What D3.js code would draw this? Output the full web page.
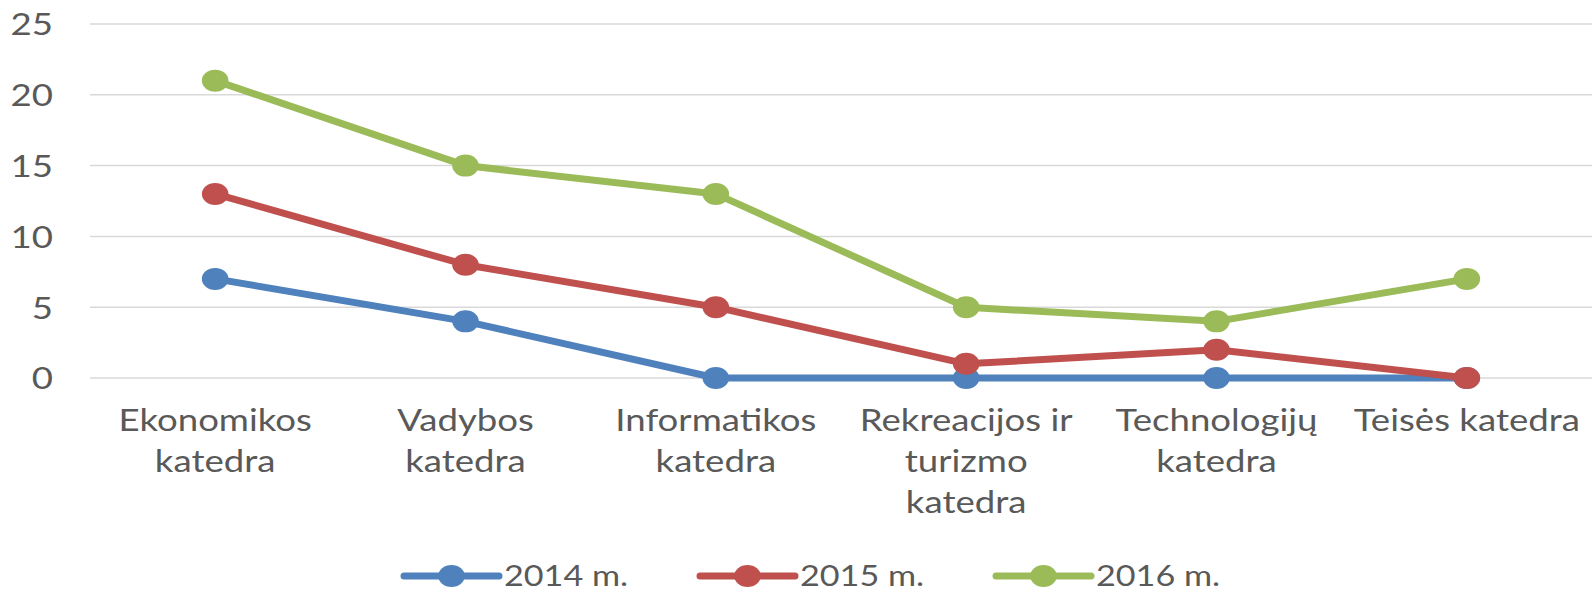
<!DOCTYPE html>
<html>
<head>
<meta charset="utf-8">
<script src="https://cdn.jsdelivr.net/npm/d3@7"></script>
<style>
  html, body { margin: 0; padding: 0; background: #fff; }
  svg { display: block; }
  text { font-family: Lato, "Open Sans", sans-serif; fill: #595959; }
</style>
</head>
<body>
<svg id="chart" width="1596" height="592"></svg>
<script>
// Departments (line breaks mark where each axis label wraps)
const categories = [
  "Ekonomikos\nkatedra",
  "Vadybos\nkatedra",
  "Informatikos\nkatedra",
  "Rekreacijos ir\nturizmo\nkatedra",
  "Technologijų\nkatedra",
  "Teisės katedra"
];
const seriesNames = ["2014 m.", "2015 m.", "2016 m."];
const values2014 = [7, 4, 0, 0, 0, 0];
const values2015 = [13, 8, 5, 1, 2, 0];
const values2016 = [21, 15, 13, 5, 4, 7];
const yTicks = [0, 5, 10, 15, 20, 25];
const colors = ["#4f81bd", "#c0504d", "#9bbb59"];

const series = [values2014, values2015, values2016].map((v, i) => ({
  name: seriesNames[i], values: v, color: colors[i]
}));

const svg = d3.select("#chart");
const plot = { left: 90, right: 1592, top: 24, bottom: 378 };
const fontSize = 30;
const stretch = 1.22;   // horizontal stretch applied to the text

const x = d3.scaleBand().domain(d3.range(categories.length))
  .range([plot.left, plot.right]).paddingInner(0).paddingOuter(0);
const y = d3.scaleLinear().domain([0, 25]).range([plot.bottom, plot.top]);

// Gridlines
svg.append("g").selectAll("line").data(yTicks).join("line")
  .attr("x1", plot.left).attr("x2", plot.right)
  .attr("y1", d => y(d)).attr("y2", d => y(d))
  .attr("stroke", "#d9d9d9").attr("stroke-width", 1.5);

// Y axis labels (right aligned, centred on each gridline)
const yAxis = svg.append("g").attr("transform", "translate(53,0)")
  .call(d3.axisLeft(y).tickValues(yTicks).tickSize(0).tickPadding(0));
yAxis.select(".domain").remove();
yAxis.selectAll("text")
  .attr("font-size", fontSize).attr("font-family", null).attr("fill", "#595959")
  .attr("dy", "0.36em")
  .attr("transform", `scale(${stretch},1)`);

// X axis labels (wrapped, centred under each category)
const xLabels = svg.append("g");
const lineGap = 41;
categories.forEach((c, i) => {
  const cx = x(i) + x.bandwidth() / 2;
  const lines = c.split("\n");
  const g = xLabels.append("g")
    .attr("transform", `translate(${cx},431) scale(${stretch},1)`);
  lines.forEach((ln, j) => {
    g.append("text")
      .attr("x", 0).attr("y", j * lineGap)
      .attr("text-anchor", "middle")
      .attr("font-size", fontSize)
      .text(ln);
  });
});

// Keep the last label inside the chart's right edge
xLabels.selectAll("g").each(function () {
  const b = this.getBoundingClientRect();
  if (b.right > 1586) {
    const shift = b.right - 1586;
    const t = d3.select(this).attr("transform");
    const m = t.match(/translate\(([\d.-]+),([\d.-]+)\)/);
    d3.select(this).attr("transform",
      `translate(${+m[1] - shift},${m[2]}) scale(${stretch},1)`);
  }
});

// Lines and markers
const line = d3.line()
  .x((d, i) => x(i) + x.bandwidth() / 2)
  .y(d => y(d));

series.forEach(s => {
  const g = svg.append("g");
  g.append("path")
    .attr("d", line(s.values))
    .attr("fill", "none")
    .attr("stroke", s.color)
    .attr("stroke-width", 7)
    .attr("stroke-linejoin", "round")
    .attr("stroke-linecap", "round");
  g.selectAll("ellipse").data(s.values).join("ellipse")
    .attr("cx", (d, i) => x(i) + x.bandwidth() / 2)
    .attr("cy", d => y(d))
    .attr("rx", 13.3).attr("ry", 11)
    .attr("fill", s.color);
});

// Legend
const legendFont = 28;
const legend = svg.append("g").attr("transform", "translate(404,576)");
const itemStep = 296;
series.forEach((s, i) => {
  const g = legend.append("g").attr("transform", `translate(${i * itemStep},0)`);
  g.append("line")
    .attr("x1", 0).attr("x2", 95).attr("y1", 0).attr("y2", 0)
    .attr("stroke", s.color).attr("stroke-width", 7)
    .attr("stroke-linecap", "round");
  g.append("ellipse")
    .attr("cx", 47.5).attr("cy", 0).attr("rx", 13.3).attr("ry", 11)
    .attr("fill", s.color);
  g.append("text")
    .attr("transform", `translate(100,0) scale(${stretch},1)`)
    .attr("dy", "0.35em")
    .attr("font-size", legendFont)
    .text(s.name);
});
</script>
</body>
</html>
